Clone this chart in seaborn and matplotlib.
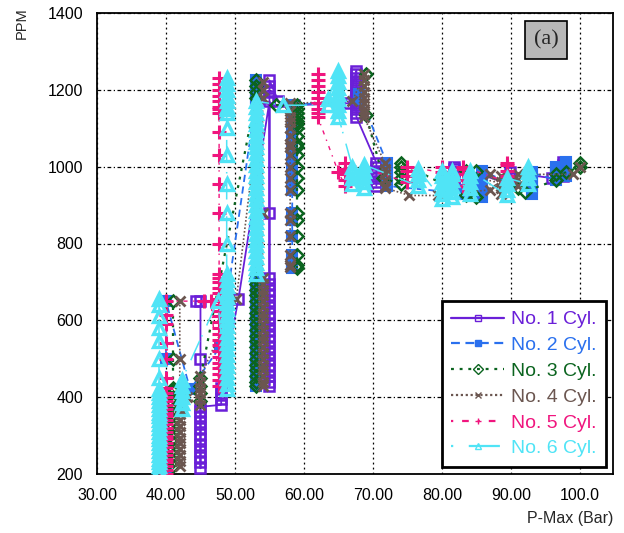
import matplotlib
matplotlib.use("Agg")
import matplotlib.pyplot as plt
from matplotlib.lines import Line2D
import seaborn as sns
import pandas as pd

# ---------------- data ----------------
cyl_names = ["No. 1 Cyl.", "No. 2 Cyl.", "No. 3 Cyl.", "No. 4 Cyl.", "No. 5 Cyl.", "No. 6 Cyl."]

c1_pmax = [44.4, 45, 48, 50.5, 55, 56.3, 58.5, 66.5, 67.6, 70.5, 81.8, 89.9, 96, 97.5]
c1_run = [0, 0, 0, 0, 0, 0, 0, 0, 0, 0, 1, 1, 1, 1]
c1_ppm = [
    [650],
    [650, 500, 215, 230, 245, 260, 275, 290, 305, 320, 335, 350, 365, 375],
    [380, 395, 410, 425],
    [655],
    [1170, 880, 710, 695, 680, 665, 650, 635, 620, 605, 590, 575, 560, 545, 530, 515, 500, 485,
     470, 455, 440, 430, 1180, 1195, 1210, 1225],
    [1170],
    [1160],
    [1165],
    [1250, 1240, 1230, 1220, 1210, 1200, 1190, 1180, 1170, 1160, 1150, 1140, 1130],
    [1010, 1000, 990, 980, 970, 960, 950],
    [955, 965, 975, 985, 995, 1000],
    [955, 970, 985],
    [970],
    [975, 985, 995, 1005, 1012],
]

c2_pmax = [40, 43.5, 47.8, 53, 58.3, 68, 72, 83.3, 85.8, 93, 96.5, 98]
c2_run = [0, 0, 0, 0, 1, 1, 1, 1, 1, 1, 1, 1]
c2_ppm = [
    [205, 500, 650],
    [420],
    [530],
    [1170, 700, 685, 670, 655, 640, 625, 610, 595, 580, 565, 550, 535, 520, 505, 490, 475, 460,
     445, 430, 1180, 1195, 1210, 1225],
    [735, 750, 770, 820, 860, 880, 940, 970, 1000, 1030, 1050, 1080, 1100, 1120, 1140, 1160],
    [1175, 1190],
    [1010, 995, 980, 965, 950],
    [930, 940],
    [920, 935, 950, 965, 980, 990],
    [930, 945, 960, 975, 985],
    [965, 975, 985, 995, 1000],
    [975, 990, 1005, 1012],
]

c3_pmax = [41, 45, 53, 56, 59, 69, 71.5, 74, 83.5, 85, 91, 92, 96.5, 98, 100]
c3_run = [0, 1, 1, 2, 2, 3, 3, 3, 3, 3, 3, 3, 3, 3, 3]
c3_ppm = [
    [220, 235, 250, 265, 280, 295, 310, 325, 340, 355, 370, 385, 400, 415, 425, 500, 650],
    [390, 410, 430, 450],
    [1180, 1195, 1210, 1225, 710, 695, 680, 665, 650, 635, 620, 605, 590, 575, 560, 545, 530,
     515, 500, 485, 470, 455, 440, 430],
    [1160],
    [1160, 1150, 1140, 1130, 1120, 1110, 1100, 1080, 1060, 1050, 1030, 1000, 970, 940, 880,
     860, 820, 770, 745, 735],
    [1240, 1135],
    [970],
    [955, 970, 985, 1000, 1010],
    [925, 990],
    [920, 990],
    [945],
    [935],
    [965, 980],
    [985],
    [1000, 1010],
]

c4_pmax = [42, 43, 45, 50.2, 54, 58, 67, 68.7, 71.7, 75.3, 79.5, 87, 88.5, 91, 99, 100]
c4_run = [0, 0, 0, 0, 0, 1, 1, 1, 1, 1, 1, 1, 1, 1, 1, 1]
c4_ppm = [
    [650, 500, 220, 235, 250, 265, 280, 295, 310, 325, 340, 355, 370],
    [400],
    [380, 395, 410, 425, 440, 455],
    [655],
    [1220, 1200, 1180, 880, 710, 695, 680, 665, 650, 635, 620, 605, 590, 575, 560, 545, 530,
     515, 500, 485, 470, 455, 440, 430],
    [740, 745, 770, 820, 860, 880, 940, 970, 1000, 1030, 1050, 1060, 1080, 1100, 1115, 1130,
     1145, 1165],
    [1170],
    [1240, 1225, 1210, 1195, 1180, 1165, 1150, 1140, 1130],
    [1010, 995, 980, 965, 950, 945],
    [925],
    [925],
    [940, 980],
    [930, 945, 960, 975],
    [950, 965, 980],
    [980],
    [1000],
]

c5_pmax = [40, 45.5, 46.5, 47.7, 62, 65, 66, 75, 80, 83, 89.5]
c5_run = [0, 0, 0, 0, 1, 1, 1, 1, 1, 1, 1]
c5_ppm = [
    [200, 210, 220, 230, 240, 250, 260, 270, 280, 290, 300, 310, 320, 330, 340, 350, 360, 370,
     380, 390, 400, 410, 425, 450, 500, 540, 590, 615, 650],
    [650],
    [650],
    [430, 445, 460, 475, 490, 505, 520, 535, 550, 565, 580, 595, 610, 625, 640, 655, 670, 685,
     700, 710, 720, 800, 880, 955, 1030, 1090, 1150, 1140, 1155, 1170, 1185, 1200, 1215, 1230],
    [1240, 1225, 1210, 1195, 1180, 1165, 1150, 1140, 1130],
    [985],
    [950, 965, 980, 995, 1010],
    [960, 975, 990, 1000],
    [985, 1000],
    [950, 965, 980, 995, 1000],
    [960, 975, 990, 1005, 1010],
]

c6_pmax = [39, 42.3, 47.5, 48.8, 53, 57, 63.5, 65, 67, 68.7, 76.5, 80, 81.5, 84, 89.5, 92.5]
c6_run = [0, 1, 1, 1, 2, 2, 2, 2, 2, 2, 2, 2, 2, 2, 2, 2]
c6_ppm = [
    [200, 210, 220, 230, 240, 250, 260, 270, 280, 290, 300, 310, 320, 330, 340, 350, 360, 370,
     380, 390, 400, 410, 420, 450, 500, 545, 580, 610, 640, 655],
    [370, 385, 400, 415, 430, 445],
    [650],
    [420, 435, 450, 465, 480, 495, 510, 525, 540, 555, 570, 585, 600, 615, 630, 645, 660, 675,
     690, 705, 720, 800, 880, 955, 1030, 1100, 1150, 1140, 1155, 1170, 1185, 1200, 1215, 1230],
    [720, 735, 750, 765, 780, 795, 810, 825, 840, 855, 870, 885, 900, 915, 930, 945, 960, 975,
     990, 1005, 1020, 1035, 1050, 1065, 1080, 1095, 1110, 1125, 1140, 1155, 1170],
    [1160],
    [1160, 1175],
    [1250, 1235, 1220, 1205, 1190, 1175, 1160, 1145, 1130],
    [1000, 985, 970, 955],
    [945, 960, 975, 990, 1005],
    [950, 965, 980, 995],
    [915, 930, 945, 960, 975, 990],
    [920, 935, 950, 965, 980, 990],
    [930, 945, 960, 975, 990],
    [925, 940, 955, 970],
    [955, 970, 985, 1000],
]

x_ticks = [30, 40, 50, 60, 70, 80, 90, 100]
x_ticklabels = ["30.00", "40.00", "50.00", "60.00", "70.00", "80.00", "90.00", "100.0"]
y_ticks = [200, 400, 600, 800, 1000, 1200, 1400]

# ---------------- styles ----------------
colors = ["#6a1fd8", "#2a70ee", "#0b641f", "#6b5650", "#f0157e", "#50e4f6"]
styles = [
    dict(marker="s", ms=7, mfc="none", ls="-", lw=1.3, mew=1.8),
    dict(marker="s", ms=6.5, mfc=None, ls=(0, (4, 2.5)), lw=1.3, mew=1.5),
    dict(marker="D", ms=6.5, mfc="none", ls=(0, (1.3, 2.6)), lw=1.6, mew=1.8),
    dict(marker="x", ms=7, mfc="none", ls=(0, (1, 1.2)), lw=1.2, mew=2.0),
    dict(marker="+", ms=10, mfc="none", ls=(0, (1, 4, 3, 4)), lw=1.0, mew=2.2),
    dict(marker="^", ms=9, mfc="none", ls=(0, (1, 7, 14, 3)), lw=1.1, mew=2.4),
]

all_pmax = [c1_pmax, c2_pmax, c3_pmax, c4_pmax, c5_pmax, c6_pmax]
all_ppm = [c1_ppm, c2_ppm, c3_ppm, c4_ppm, c5_ppm, c6_ppm]
all_run = [c1_run, c2_run, c3_run, c4_run, c5_run, c6_run]

sns.set_theme(style="white")
plt.rcParams["font.family"] = ["Liberation Sans", "DejaVu Sans"]

fig = plt.figure(figsize=(6.24, 5.33), dpi=100)
ax = fig.add_axes([97 / 624, 1 - 474 / 533, (613 - 97) / 624, (474 - 13) / 533])

for i in range(6):
    rows = []
    for xv, ys, run in zip(all_pmax[i], all_ppm[i], all_run[i]):
        for yv in ys:
            rows.append((xv, yv, run))
    df = pd.DataFrame(rows, columns=["pmax", "ppm", "run"])
    st = styles[i]
    mfc = colors[i] if st["mfc"] is None else "none"
    sns.lineplot(data=df, x="pmax", y="ppm", units="run", estimator=None, sort=False,
                 color=colors[i], marker=st["marker"], markersize=st["ms"],
                 markerfacecolor=mfc, markeredgecolor=colors[i], markeredgewidth=st["mew"],
                 linestyle=st["ls"], linewidth=st["lw"], ax=ax, legend=False, zorder=3 + i)

ax.set_xlim(30, 104.8)
ax.set_ylim(200, 1400)
ax.set_xticks(x_ticks)
ax.set_xticklabels(x_ticklabels)
ax.set_yticks(y_ticks)
ax.tick_params(axis="both", length=0, labelsize=11.5, colors="black")
ax.tick_params(axis="x", pad=10)
ax.tick_params(axis="y", pad=10)
ax.set_xlabel("")
ax.set_ylabel("")
ax.xaxis.grid(True, color="black", linestyle=(0, (1.5, 2.5)), linewidth=0.9)
ax.yaxis.grid(True, color="black", linestyle=(0, (3, 2, 1, 2)), linewidth=0.9)
ax.set_axisbelow(True)
for sp in ax.spines.values():
    sp.set_color("black")
    sp.set_linewidth(1.3)
    sp.set_visible(True)

fig.text(613 / 624, 1 - 519 / 533, "P-Max (Bar)", ha="right", va="center", fontsize=11.5)
fig.text(22 / 624, 1 - 23 / 533, "PPM", rotation=90, ha="center", va="center", fontsize=10.5)

fig.text(546 / 624, 1 - 40 / 533, "(a)", ha="center", va="center", fontsize=16,
         family=["Liberation Serif", "DejaVu Serif"],
         bbox=dict(boxstyle="square,pad=0.4", facecolor="#b8b8b8", edgecolor="black", lw=1.2))

handles = []
for i in range(6):
    st = styles[i]
    mfc = colors[i] if st["mfc"] is None else "none"
    handles.append(Line2D([0], [0], color=colors[i], marker=st["marker"], markersize=5,
                          markerfacecolor=mfc, markeredgecolor=colors[i], markeredgewidth=1.0,
                          linestyle=st["ls"], linewidth=1.6))
leg = ax.legend(handles, cyl_names, loc="lower right",
                bbox_to_anchor=(606 / 624, 1 - 467 / 533), bbox_transform=fig.transFigure,
                fontsize=14, frameon=True, fancybox=False, framealpha=1,
                edgecolor="black", handlelength=2.7, handletextpad=0.35,
                labelspacing=0.42, borderpad=0.5, borderaxespad=0)
leg.get_frame().set_linewidth(2)
leg.set_zorder(20)
for t, c in zip(leg.get_texts(), colors):
    t.set_color(c)

fig.savefig("out.png", dpi=100)
